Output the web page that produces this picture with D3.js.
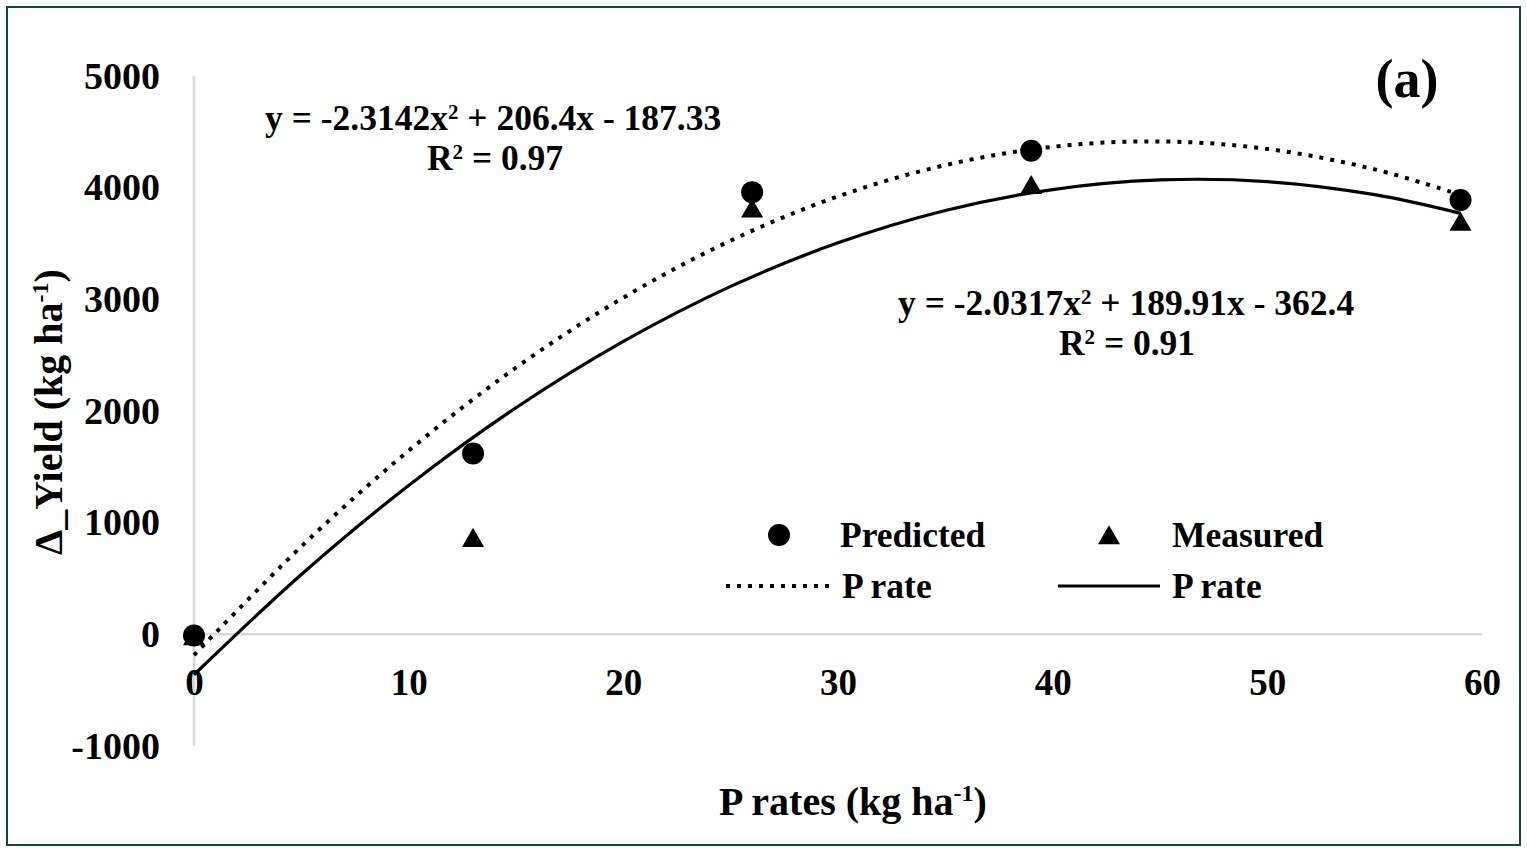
<!DOCTYPE html>
<html>
<head>
<meta charset="utf-8">
<script src="https://cdn.jsdelivr.net/npm/d3@7"></script>
<style>
  body { margin: 0; background: #fff; }
  text { font-family: "Liberation Serif", "Times New Roman", serif; font-weight: bold; fill: #000; }
</style>
</head>
<body>
<div id="chart"></div>
<script>
// # Data.
const pRates = [0, 13, 26, 39, 59]
const predicted = [-10, 1620, 3960, 4330, 3890]
const measured = [-40, 840, 3790, 4000, 3670]

// # Trend line samples.
const trendX = [0, 5, 10, 15, 20, 25, 30, 35, 40, 45, 50, 55, 59]
const predictedTrend = [-187, 787, 1645, 2388, 3015, 3526, 3922, 4202, 4366, 4414, 4347, 4164, 3935]
const measuredTrend = [-362, 536, 1333, 2029, 2623, 3116, 3506, 3796, 3983, 4069, 4054, 3937, 3770]

const xTicks = [0, 10, 20, 30, 40, 50, 60]
const yTicks = [-1000, 0, 1000, 2000, 3000, 4000, 5000]

const width = 1527, height = 853

let svg = d3.select('#chart')
    .append('svg')
    .attr('width', width)
    .attr('height', height)

// # Frame.
svg.append('rect')
    .attr('x', 7).attr('y', 7)
    .attr('width', 1513).attr('height', 838)
    .attr('fill', '#fff')
    .attr('stroke', '#0d4a36')
    .attr('stroke-width', 2)

let x = d3.scaleLinear().domain([0, 60]).range([194, 1482])
let y = d3.scaleLinear().domain([-1000, 5000]).range([746, 76])

// # Axis lines (light gray, crossing at origin).
svg.append('line')
    .attr('x1', x(0)).attr('x2', x(0))
    .attr('y1', y(5000)).attr('y2', y(-1000))
    .attr('stroke', '#d9d9d9').attr('stroke-width', 2.5)
svg.append('line')
    .attr('x1', x(0)).attr('x2', x(60))
    .attr('y1', y(0)).attr('y2', y(0))
    .attr('stroke', '#d9d9d9').attr('stroke-width', 2.5)

// # Tick labels via axis generators, no domain/tick marks.
let xAxis = svg.append('g')
    .attr('transform', `translate(0, ${y(0)})`)
    .call(d3.axisBottom(x).tickValues(xTicks).tickFormat(d => String(d)).tickSize(0).tickPadding(34))
xAxis.select('.domain').remove()
xAxis.selectAll('text')
    .style('font-size', '37px')
    .style('font-family', '"Liberation Serif", serif')
    .style('font-weight', 'bold')

let yAxis = svg.append('g')
    .attr('transform', `translate(160, 0)`)
    .call(d3.axisLeft(y).tickValues(yTicks).tickFormat(d => String(d)).tickSize(0).tickPadding(0))
yAxis.select('.domain').remove()
yAxis.selectAll('text')
    .style('font-size', '38px')
    .style('font-family', '"Liberation Serif", serif')
    .style('font-weight', 'bold')

// # Trend lines.
let line = d3.line()
    .x(d => x(d[0]))
    .y(d => y(d[1]))
    .curve(d3.curveCatmullRom)

svg.append('path')
    .datum(trendX.map((v, i) => [v, predictedTrend[i]]))
    .attr('d', line)
    .attr('fill', 'none')
    .attr('stroke', '#000')
    .attr('stroke-width', 4)
    .attr('stroke-dasharray', '4,7')

svg.append('path')
    .datum(trendX.map((v, i) => [v, measuredTrend[i]]))
    .attr('d', line)
    .attr('fill', 'none')
    .attr('stroke', '#000')
    .attr('stroke-width', 3.2)

// # Markers.
let tri = d3.symbol().type(d3.symbolTriangle).size(210)
svg.append('g').selectAll('path')
    .data(pRates.map((v, i) => [v, measured[i]]))
    .enter().append('path')
    .attr('d', tri)
    .attr('transform', d => `translate(${x(d[0])}, ${y(d[1])})`)
    .attr('fill', '#000')

svg.append('g').selectAll('circle')
    .data(pRates.map((v, i) => [v, predicted[i]]))
    .enter().append('circle')
    .attr('cx', d => x(d[0]))
    .attr('cy', d => y(d[1]))
    .attr('r', 11)
    .attr('fill', '#000')

// # Equations.
function eq(xPos, yPos, parts, anchor) {
    let t = svg.append('text')
        .attr('x', xPos).attr('y', yPos)
        .attr('text-anchor', anchor)
        .style('font-size', '35.5px')
    parts.forEach(p => {
        let s = t.append('tspan').text(p.t)
        if (p.sup) s.attr('dy', -11).style('font-size', '21px')
        if (p.down) s.attr('dy', 11)
    })
}
eq(265, 130, [{t: 'y = -2.3142x'}, {t: '2', sup: true}, {t: ' + 206.4x - 187.33', down: true}], 'start')
eq(495, 170, [{t: 'R'}, {t: '2', sup: true}, {t: ' = 0.97', down: true}], 'middle')
eq(898, 315, [{t: 'y = -2.0317x'}, {t: '2', sup: true}, {t: ' + 189.91x - 362.4', down: true}], 'start')
eq(1127, 355, [{t: 'R'}, {t: '2', sup: true}, {t: ' = 0.91', down: true}], 'middle')

// # Panel label.
svg.append('text')
    .attr('x', 1407).attr('y', 97)
    .attr('text-anchor', 'middle')
    .style('font-size', '54px')
    .text('(a)')

// # Legend.
let lg = svg.append('g')
lg.append('circle').attr('cx', 779).attr('cy', 535).attr('r', 11).attr('fill', '#000')
lg.append('path').attr('d', tri).attr('transform', 'translate(1109, 538)').attr('fill', '#000')
lg.append('line').attr('x1', 726).attr('x2', 832).attr('y1', 586).attr('y2', 586)
    .attr('stroke', '#000').attr('stroke-width', 4).attr('stroke-dasharray', '4,7')
lg.append('line').attr('x1', 1058).attr('x2', 1160).attr('y1', 586).attr('y2', 586)
    .attr('stroke', '#000').attr('stroke-width', 3.2)
const legendText = [['Predicted', 840, 547], ['Measured', 1172, 547], ['P rate', 842, 598], ['P rate', 1172, 598]]
lg.selectAll('text').data(legendText).enter().append('text')
    .attr('x', d => d[1]).attr('y', d => d[2])
    .style('font-size', '35.5px')
    .text(d => d[0])

// # Axis titles.
let xt = svg.append('text')
    .attr('x', 853).attr('y', 815)
    .attr('text-anchor', 'middle')
    .style('font-size', '40px')
xt.append('tspan').text('P rates (kg ha')
xt.append('tspan').text('-1').attr('dy', -14).style('font-size', '24px')
xt.append('tspan').text(')').attr('dy', 14)

let yt = svg.append('text')
    .attr('transform', 'translate(62, 412) rotate(-90)')
    .attr('text-anchor', 'middle')
    .style('font-size', '40px')
yt.append('tspan').text('Δ_Yield (kg ha')
yt.append('tspan').text('-1').attr('dy', -14).style('font-size', '24px')
yt.append('tspan').text(')').attr('dy', 14)
</script>
</body>
</html>
